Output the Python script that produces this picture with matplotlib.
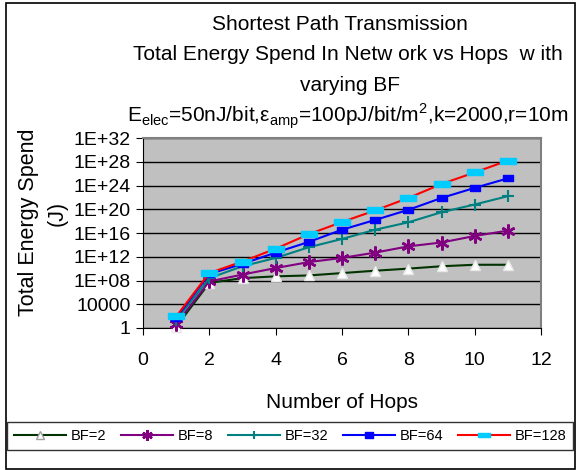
import numpy as np
import matplotlib
matplotlib.use("Agg")
import matplotlib.pyplot as plt
from matplotlib.patches import Rectangle

plt.rcParams["font.family"] = ["Liberation Sans", "DejaVu Sans"]

# Data (log10 of total energy, J)
hops = [1, 2, 3, 4, 5, 6, 7, 8, 9, 10, 11]
bf_labels = ["BF=2", "BF=8", "BF=32", "BF=64", "BF=128"]
log_bf2 = [0.2, 7.6, 8.4, 8.7, 8.85, 9.25, 9.65, 10.0, 10.4, 10.65, 10.65]
log_bf8 = [0.7, 7.85, 9.0, 10.1, 11.1, 11.8, 12.7, 13.75, 14.4, 15.5, 16.4]
log_bf32 = [1.3, 8.4, 10.4, 11.8, 13.6, 15.0, 16.55, 17.8, 19.5, 20.8, 22.2]
log_bf64 = [1.7, 9.1, 10.8, 12.7, 14.5, 16.55, 18.2, 19.9, 21.9, 23.6, 25.2]
log_bf128 = [1.95, 9.26, 11.2, 13.35, 15.8, 17.85, 19.8, 21.9, 24.25, 26.2, 28.2]

y_ticks = [1, 1e4, 1e8, 1e12, 1e16, 1e20, 1e24, 1e28, 1e32]
y_tick_labels = ["1", "10000", "1E+08", "1E+12", "1E+16", "1E+20", "1E+24", "1E+28", "1E+32"]
x_ticks = [0, 2, 4, 6, 8, 10, 12]

W, H = 578, 470
fig = plt.figure(figsize=(W / 100, H / 100), dpi=100)
fig.patch.set_facecolor("white")

# chart border
fig.patches.append(Rectangle((6 / W, 1 / H), 569 / W, 466 / H, transform=fig.transFigure,
                             fill=False, edgecolor="black", linewidth=1.2))

ax = fig.add_axes([143 / W, (H - 328) / H, (541 - 143) / W, (328 - 138) / H])
ax.set_facecolor("#C0C0C0")

rect = [(-1, -0.36), (1, -0.36), (1, 0.36), (-1, 0.36), (-1, -0.36)]
sq = [(-1, -0.7), (1, -0.7), (1, 0.7), (-1, 0.7), (-1, -0.7)]

series = [
    (log_bf2, "#003300", "^", dict(markersize=7, markerfacecolor="white", markeredgecolor="#E8E8E8")),
    (log_bf8, "#800080", (6, 2, 0), dict(markersize=10, markeredgewidth=1.8, markeredgecolor="#800080")),
    (log_bf32, "#008080", "+", dict(markersize=8, markeredgewidth=1.5, markeredgecolor="#008080")),
    (log_bf64, "#0000FF", sq, dict(markersize=7, markerfacecolor="#0000FF", markeredgecolor="#0000FF")),
    (log_bf128, "#FF0000", rect, dict(markersize=11, markerfacecolor="#00CCFF", markeredgecolor="#00CCFF")),
]

handles = []
for vals, color, marker, kw in series:
    (h,) = ax.plot(hops, 10 ** np.array(vals), color=color, marker=marker, linewidth=1.5,
                   clip_on=False, zorder=3, **kw)
    handles.append(h)

ax.set_yscale("log")
ax.set_ylim(1, 1e32)
ax.set_xlim(0, 12)
ax.set_yticks(y_ticks)
ax.set_yticklabels(y_tick_labels)
ax.minorticks_off()
ax.set_xticks(x_ticks)
ax.yaxis.grid(True, color="black", linewidth=1)
ax.set_axisbelow(True)
ax.tick_params(axis="both", labelsize=14, direction="out", length=5, color="black")
ax.tick_params(axis="y", pad=4)
ax.tick_params(axis="x", pad=12)

for side in ["top", "right"]:
    ax.spines[side].set_color("#808080")
    ax.spines[side].set_linewidth(1.5)
for side in ["left", "bottom"]:
    ax.spines[side].set_color("black")

fig.text(342 / W, 1 - 402 / H, "Number of Hops", fontsize=15, ha="center", va="center")

fig.text(29 / W, 1 - 222 / H, "Total Energy Spend", rotation=90, fontsize=15.5, ha="center", va="center")
fig.text(57 / W, 1 - 213 / H, "(J)", rotation=90, fontsize=15.5, ha="center", va="center")

fig.text(340 / W, 1 - 24 / H, "Shortest Path Transmission", fontsize=15, ha="center", va="center")
fig.text(348 / W, 1 - 54 / H, "Total Energy Spend In Netw ork vs Hops  w ith", fontsize=15, ha="center", va="center")
fig.text(350 / W, 1 - 86 / H, "varying BF", fontsize=15, ha="center", va="center")
fig.text(348 / W, 1 - 116 / H,
         r"E$_{\mathregular{elec}}$=50nJ/bit,$\mathregular{\epsilon}_{\mathregular{amp}}$=100pJ/bit/m$^{\mathregular{2}}$,k=2000,r=10m",
         fontsize=15, ha="center", va="center")

leg = fig.legend(handles, bf_labels, loc="center", bbox_to_anchor=(290 / W, 1 - 436 / H), ncol=5,
                 fontsize=10.5, frameon=True, fancybox=False, edgecolor="black",
                 handlelength=3.6, columnspacing=1.0, handletextpad=0.3, borderpad=0.45)
leg.get_frame().set_linewidth(1)
leg.legend_handles[0].set_markeredgecolor("#A0A0A0")
for h in leg.legend_handles:
    h.set_markersize(h.get_markersize() * 0.75)

fig.savefig("out.png", dpi=100)
